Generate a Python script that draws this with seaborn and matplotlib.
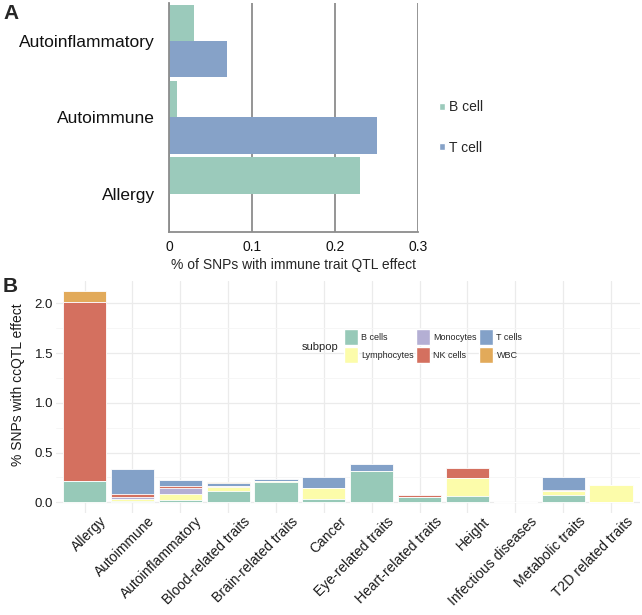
import pandas as pd
import matplotlib.pyplot as plt
import matplotlib.transforms as mtransforms
from matplotlib.patches import Patch
import seaborn as sns

# Panel A: immune trait QTL effect by cell type
traits_a = ["Autoinflammatory", "Autoimmune", "Allergy"]
cells_a = ["B cell", "T cell"]
b_cell_a = [0.03, 0.01, 0.23]
t_cell_a = [0.07, 0.25, 0.0]

# Panel B: ccQTL effect per trait, stacked by subpopulation
traits_b = ["Allergy", "Autoimmune", "Autoinflammatory", "Blood-related traits",
            "Brain-related traits", "Cancer", "Eye-related traits",
            "Heart-related traits", "Height", "Infectious diseases",
            "Metabolic traits", "T2D related traits"]
subpops = ["B cells", "Lymphocytes", "Monocytes", "NK cells", "T cells", "WBC"]
b_cells = [0.21, 0.015, 0.027, 0.113, 0.205, 0.033, 0.318, 0.05, 0.063, 0, 0.07, 0]
lymphocytes = [0, 0.02, 0.057, 0.04, 0.005, 0.113, 0, 0, 0.178, 0, 0.045, 0.175]
monocytes = [0, 0.02, 0.057, 0.01, 0, 0, 0, 0, 0, 0, 0, 0]
nk_cells = [1.80, 0.025, 0.027, 0, 0, 0, 0, 0.025, 0.10, 0, 0.01, 0]
t_cells = [0, 0.252, 0.06, 0.03, 0.022, 0.112, 0.067, 0, 0.008, 0, 0.13, 0]
wbc = [0.11, 0, 0, 0.012, 0, 0, 0, 0, 0, 0, 0, 0]

col_a = {"B cell": "#9BCABB", "T cell": "#86A2C8"}
col_b = {"B cells": "#97C9B8", "Lymphocytes": "#FCFCAA", "Monocytes": "#B4AFD4",
         "NK cells": "#D4705F", "T cells": "#83A1C8", "WBC": "#E2AA5A"}
gray_a = "#8C8C8C"

sns.set_style("white")
plt.rcParams['font.family'] = ['Liberation Sans', 'DejaVu Sans']

W, H = 642, 615
fig = plt.figure(figsize=(W / 100, H / 100), dpi=100)

# ---- panel A
df_a = pd.DataFrame({"trait": traits_a * 2,
                     "cell": ["B cell"] * 3 + ["T cell"] * 3,
                     "pct": b_cell_a + t_cell_a})
axA = fig.add_axes([169 / W, 1 - 232 / H, 249 / W, 229.3 / H])
sns.barplot(data=df_a, x="pct", y="trait", hue="cell", order=traits_a,
            hue_order=cells_a, palette=col_a, orient="h", width=0.95, gap=0,
            saturation=1, errorbar=None, legend=False, linewidth=0, ax=axA)
axA.set_xlim(0, 0.3)
axA.set_ylim(2.5, -0.5)
axA.set_xticks([0, 0.1, 0.2, 0.3])
axA.set_xticklabels(["0", "0.1", "0.2", "0.3"])
axA.set_yticks([-0.5, 0.5, 1.5, 2.5], minor=True)
axA.tick_params(axis="y", which="major", length=0, pad=10, labelsize=12.5, colors="#111111")
axA.tick_params(axis="y", which="minor", length=3, color=gray_a, width=1)
axA.tick_params(axis="x", length=3, color=gray_a, width=1, labelsize=10, pad=3, labelcolor="#111111")
axA.grid(axis="x", color=gray_a, lw=1.3)
axA.grid(axis="y", visible=False)
axA.set_axisbelow(True)
for s in ["top", "right"]:
    axA.spines[s].set_visible(False)
for s in ["left", "bottom"]:
    axA.spines[s].set_color(gray_a)
    axA.spines[s].set_linewidth(1.3)
axA.set_ylabel("")
axA.set_xlabel("% of SNPs with immune trait QTL effect", fontsize=10, labelpad=3)

fig.legend(handles=[Patch(facecolor=col_a[c], label=c) for c in cells_a],
           loc="center left", bbox_to_anchor=(438.5 / W, 1 - 127.5 / H),
           frameon=False, fontsize=10, handlelength=0.45, handleheight=0.45,
           handletextpad=0.3, labelspacing=1.9, borderpad=0, borderaxespad=0)

# ---- panel B
df_b = pd.DataFrame({"B cells": b_cells, "Lymphocytes": lymphocytes,
                     "Monocytes": monocytes, "NK cells": nk_cells,
                     "T cells": t_cells, "WBC": wbc}, index=traits_b)
cum = df_b[subpops].cumsum(axis=1)

axB = fig.add_axes([55.9 / W, 1 - 512.8 / H, (639.7 - 55.9) / W, 232 / H])
# draw cumulative totals from the top layer down so each segment shows
for sp in subpops[::-1]:
    sns.barplot(x=traits_b, y=cum[sp].values, color=col_b[sp], width=0.9,
                saturation=1, edgecolor="white", linewidth=0.6,
                errorbar=None, ax=axB)

axB.set_xlim(-0.6, 11.6)
axB.set_ylim(-0.106, 2.226)
axB.set_yticks([0, 0.5, 1.0, 1.5, 2.0])
axB.set_yticklabels(["0.0", "0.5", "1.0", "1.5", "2.0"])
axB.set_yticks([0.25, 0.75, 1.25, 1.75], minor=True)
axB.grid(which="major", color="#EBEBEB", lw=0.9)
axB.grid(which="minor", axis="y", color="#F5F5F5", lw=0.6)
axB.set_axisbelow(True)
for s in axB.spines.values():
    s.set_visible(False)
axB.tick_params(axis="y", which="both", length=0, pad=2, labelsize=9.5, labelcolor="#1A1A1A")
axB.tick_params(axis="x", length=0, pad=1)
axB.set_xticks(range(len(traits_b)))
axB.set_xticklabels(traits_b, rotation=45, ha="right", va="top",
                    rotation_mode="anchor", fontsize=10, color="#1A1A1A")
shift = mtransforms.ScaledTranslation(15 / 100, 0, fig.dpi_scale_trans)
for lbl in axB.get_xticklabels():
    lbl.set_transform(lbl.get_transform() + shift)
axB.set_xlabel("")
axB.set_ylabel("% SNPs with ccQTL effect", fontsize=10, color="#1A1A1A")
axB.yaxis.set_label_coords(25 / W, 1 - 384.5 / H, transform=fig.transFigure)

axB.legend(handles=[Patch(facecolor=col_b[s], label=s) for s in subpops],
           ncol=3, loc="upper left", bbox_to_anchor=(344 / W, 1 - 329 / H),
           bbox_transform=fig.transFigure, frameon=False, fontsize=6.5,
           handlelength=1.55, handleheight=2.35, handletextpad=0.33,
           labelspacing=0.2, columnspacing=0.3, borderpad=0, borderaxespad=0)
fig.text(302 / W, 1 - 347.5 / H, "subpop", fontsize=8, ha="left", va="center")

fig.text(3 / W, 1 - 4 / H, "A", fontsize=15, weight="bold", va="top", ha="left")
fig.text(3 / W, 1 - 277 / H, "B", fontsize=15, weight="bold", va="top", ha="left")

fig.savefig("out.png", dpi=100)
